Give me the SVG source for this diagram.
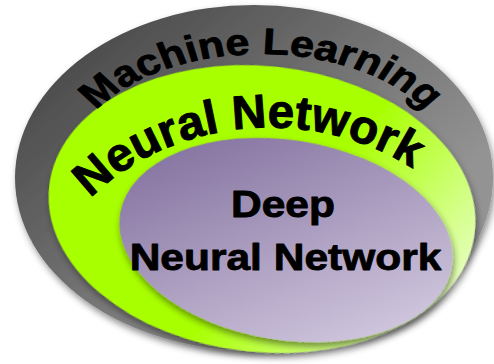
<svg xmlns="http://www.w3.org/2000/svg" width="494" height="364" viewBox="0 0 494 364">
  <defs>
    <style>
      .label { font-family: "Liberation Sans", Arial, sans-serif; font-weight: bold; fill: #000; stroke: #000; stroke-width: 1; stroke-linejoin: round; }
    </style>
    <linearGradient id="gradGray" x1="0.1" y1="0.15" x2="0.75" y2="0.7">
      <stop offset="0" stop-color="#4b4b4b"/>
      <stop offset="1" stop-color="#939393"/>
    </linearGradient>
    <linearGradient id="gradGreen" x1="0" y1="0.3" x2="1" y2="0.75">
      <stop offset="0" stop-color="#a8ff00"/>
      <stop offset="0.55" stop-color="#a8ff00"/>
      <stop offset="1" stop-color="#ebffd0"/>
    </linearGradient>
    <linearGradient id="gradPurple" x1="0" y1="0" x2="1" y2="1">
      <stop offset="0" stop-color="#7a6797"/>
      <stop offset="1" stop-color="#dcd4e8"/>
    </linearGradient>
    <filter id="shadow" x="-10%" y="-10%" width="125%" height="130%">
      <feDropShadow dx="2" dy="4" stdDeviation="3.5" flood-color="#000" flood-opacity="0.45"/>
    </filter>
    <!-- Baseline of the outer arched title, in the squashed text frame (y scaled by 0.85) -->
    <path id="arcML" d="M 69 200 A 192 136.5 0 0 1 453 200"/>
    <!-- Baseline of the middle arched title, in page coordinates -->
    <path id="arcNN" d="M 35 327.25 A 235 199.75 0 0 1 505 327.25"/>
  </defs>

  <g id="machine-learning">
    <ellipse cx="254" cy="178" rx="239" ry="173" fill="url(#gradGray)" filter="url(#shadow)"/>
  </g>

  <g id="neural-network">
    <ellipse cx="262" cy="209" rx="214" ry="143" transform="rotate(6 262 209)" fill="url(#gradGreen)" filter="url(#shadow)"/>
  </g>

  <g id="deep-neural-network">
    <ellipse cx="286" cy="240" rx="168" ry="100" transform="rotate(9 286 240)" fill="url(#gradPurple)" filter="url(#shadow)"/>
  </g>

  <!-- Middle arched title -->
  <text class="label" font-size="47.5">
    <textPath href="#arcNN" startOffset="318" text-anchor="middle">Neural Network</textPath>
  </text>

  <!-- Outer title and inner label, set in a frame squashed vertically -->
  <g transform="scale(1 0.85)">
    <text class="label" font-size="43">
      <textPath href="#arcML" startOffset="50%" text-anchor="middle">Machine Learning</textPath>
    </text>
    <text class="label" font-size="42.5" text-anchor="middle" x="283" y="255.3">Deep</text>
    <text class="label" font-size="42.5" text-anchor="middle" x="285.5" y="317.1">Neural Network</text>
  </g>
</svg>
